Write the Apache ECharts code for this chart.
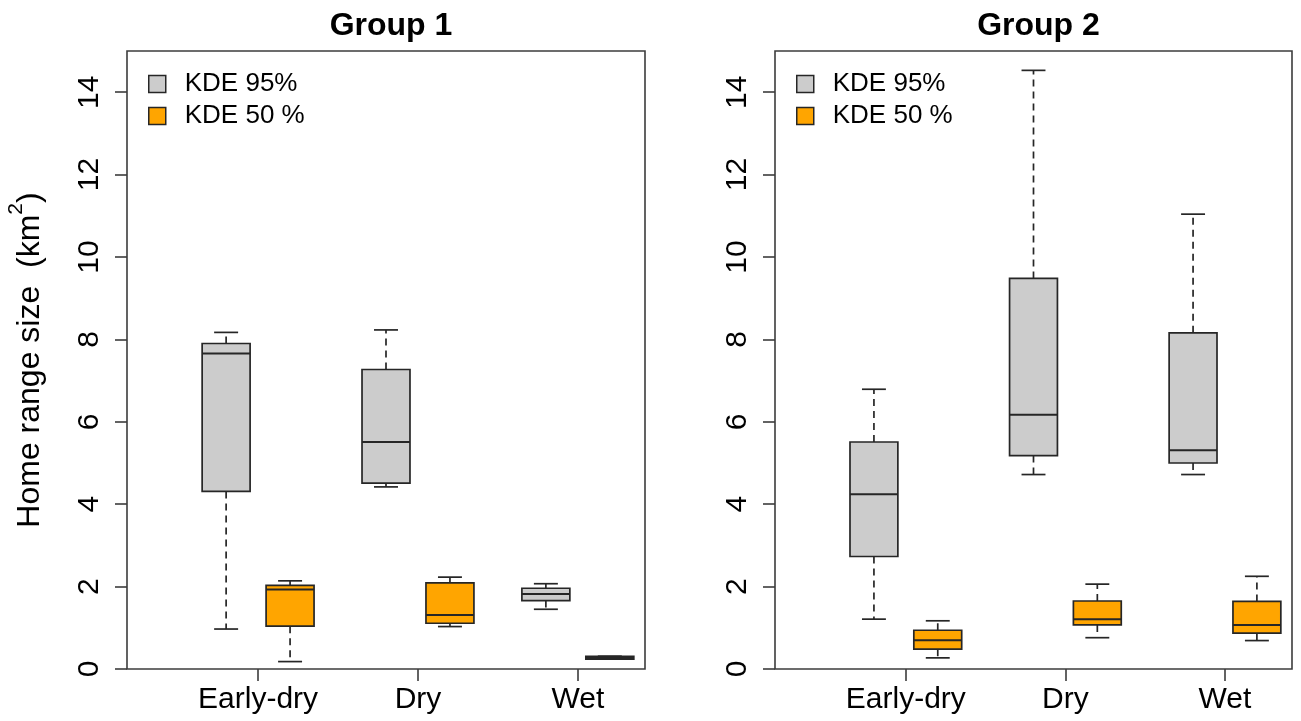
<!DOCTYPE html>
<html>
<head>
<meta charset="utf-8">
<script src="https://cdn.jsdelivr.net/npm/echarts@6/dist/echarts.min.js"></script>
<style>html,body{margin:0;padding:0;background:#fff}#c{width:1301px;height:721px}</style>
</head>
<body>
<div id="c"></div>
<script>
// ---- data ----
const categories = ['Early-dry', 'Dry', 'Wet'];
const groupTitles = ['Group 1', 'Group 2'];
const seriesNames = ['KDE 95%', 'KDE 50 %'];
const yTicks = [0, 2, 4, 6, 8, 10, 12, 14];
// each entry: [min, Q1, median, Q3, max]
const group1_kde95 = [[0.97, 4.31, 7.66, 7.90, 8.17], [4.42, 4.51, 5.51, 7.27, 8.23], [1.45, 1.66, 1.82, 1.96, 2.07]];
const group1_kde50 = [[0.18, 1.04, 1.93, 2.03, 2.14], [1.03, 1.11, 1.31, 2.09, 2.23], [0.24, 0.24, 0.27, 0.31, 0.31]];
const group2_kde95 = [[1.21, 2.73, 4.24, 5.51, 6.79], [4.72, 5.18, 6.17, 9.48, 14.53], [4.72, 5.00, 5.31, 8.16, 11.04]];
const group2_kde50 = [[0.27, 0.48, 0.70, 0.94, 1.17], [0.76, 1.07, 1.21, 1.65, 2.06], [0.69, 0.87, 1.07, 1.64, 2.25]];

// ---- style ----
const FONT = '"Liberation Sans", Arial, sans-serif';
const FILLS = ['#cccccc', '#FFA500'];
const LINE = '#262626';
const OFFSETS = [-0.2, 0.2];
const BOX_W = 0.3;
const XMIN = 0.18, XMAX = 3.42;

function toItems(stats, k) {
  return stats.map((s, i) => [i + 1 + OFFSETS[k]].concat(s));
}

function renderItem(params, api) {
  const x = api.value(0);
  const mn = api.value(1), q1 = api.value(2), md = api.value(3), q3 = api.value(4), mx = api.value(5);
  const w = api.size([BOX_W, 0])[0];
  const pMin = api.coord([x, mn]), pQ1 = api.coord([x, q1]), pMd = api.coord([x, md]);
  const pQ3 = api.coord([x, q3]), pMax = api.coord([x, mx]);
  const cx = pMin[0];
  const fill = api.visual('color');
  const dashed = { stroke: LINE, lineWidth: 1.7, lineDash: [7, 5] };
  const solid = { stroke: LINE, lineWidth: 1.7 };
  const boxH = pQ1[1] - pQ3[1];
  return {
    type: 'group',
    children: [
      { type: 'line', shape: { x1: cx, y1: pQ3[1], x2: cx, y2: pMax[1] }, style: dashed },
      { type: 'line', shape: { x1: cx, y1: pQ1[1], x2: cx, y2: pMin[1] }, style: dashed },
      { type: 'line', shape: { x1: cx - w / 4, y1: pMax[1], x2: cx + w / 4, y2: pMax[1] }, style: solid },
      { type: 'line', shape: { x1: cx - w / 4, y1: pMin[1], x2: cx + w / 4, y2: pMin[1] }, style: solid },
      { type: 'rect', shape: { x: cx - w / 2, y: pQ3[1], width: w, height: boxH },
        style: { fill: boxH < 4 ? LINE : fill, stroke: LINE, lineWidth: 1.7 } },
      { type: 'line', shape: { x1: cx - w / 2, y1: pMd[1], x2: cx + w / 2, y2: pMd[1] },
        style: { stroke: LINE, lineWidth: 2 } }
    ]
  };
}

const grids = [
  { left: 127, top: 51, width: 518, height: 618 },
  { left: 775, top: 51, width: 517, height: 618 }
];
const allData = [[group1_kde95, group1_kde50], [group2_kde95, group2_kde50]];

const option = {
  backgroundColor: '#ffffff',
  animation: false,
  title: grids.map((g, i) => ({
    text: groupTitles[i],
    left: g.left + g.width / 2,
    textAlign: 'center',
    top: 5,
    textStyle: { fontFamily: FONT, fontWeight: 'bold', fontSize: 32, color: '#000' }
  })),
  legend: grids.map((g, i) => ({
    orient: 'vertical',
    left: g.left + 21,
    top: 71,
    padding: 0,
    itemWidth: 17,
    itemHeight: 17,
    itemGap: 6,
    selectedMode: false,
    formatter: '{t|{name}}',
    textStyle: { fontFamily: FONT, fontSize: 26, color: '#000',
      rich: { t: { fontFamily: FONT, fontSize: 26, color: '#000', padding: [0, 0, 0, 14] } } },
    data: seriesNames.map((n, k) => ({
      name: n, icon: 'rect',
      itemStyle: { color: FILLS[k], borderColor: LINE, borderWidth: 1.5 }
    }))
  })),
  grid: grids.map(g => Object.assign({ show: true, borderColor: '#3c3c3c', borderWidth: 1.6, backgroundColor: 'transparent' }, g)),
  xAxis: grids.map((g, i) => ({
    type: 'value', gridIndex: i, min: XMIN, max: XMAX,
    axisLine: { show: false },
    splitLine: { show: false },
    axisTick: { show: true, customValues: [1, 2, 3], length: 12, lineStyle: { color: '#3c3c3c', width: 1.6 } },
    axisLabel: { show: true, customValues: [1, 2, 3], margin: 16,
      formatter: v => categories[Math.round(v) - 1] || '',
      fontFamily: FONT, fontSize: 30, color: '#000' }
  })),
  yAxis: grids.map((g, i) => ({
    type: 'value', gridIndex: i, min: 0, max: 15,
    axisLine: { show: false },
    splitLine: { show: false },
    axisTick: { show: true, customValues: yTicks, length: 12, lineStyle: { color: '#3c3c3c', width: 1.6 } },
    axisLabel: { show: true, customValues: yTicks, rotate: 90, margin: 22,
      fontFamily: FONT, fontSize: 30, color: '#000' },
    name: i === 0 ? '{n|Home range size  (km}{s|2}{n|)}' : '',
    nameLocation: 'middle',
    nameRotate: 90,
    nameGap: 73,
    nameTextStyle: { fontFamily: FONT, color: '#000',
      rich: {
        n: { fontFamily: FONT, fontSize: 32, lineHeight: 48, color: '#000' },
        s: { fontFamily: FONT, fontSize: 21, lineHeight: 21, verticalAlign: 'top', color: '#000' }
      } }
  })),
  series: []
};

allData.forEach((pair, gi) => {
  pair.forEach((stats, k) => {
    option.series.push({
      type: 'custom',
      name: seriesNames[k],
      xAxisIndex: gi, yAxisIndex: gi,
      itemStyle: { color: FILLS[k] },
      encode: { x: 0, y: [1, 2, 3, 4, 5] },
      renderItem: renderItem,
      clip: false,
      data: toItems(stats, k)
    });
  });
});

const chart = echarts.init(document.getElementById('c'), null, { renderer: 'canvas' });
chart.setOption(option);
</script>
</body>
</html>
